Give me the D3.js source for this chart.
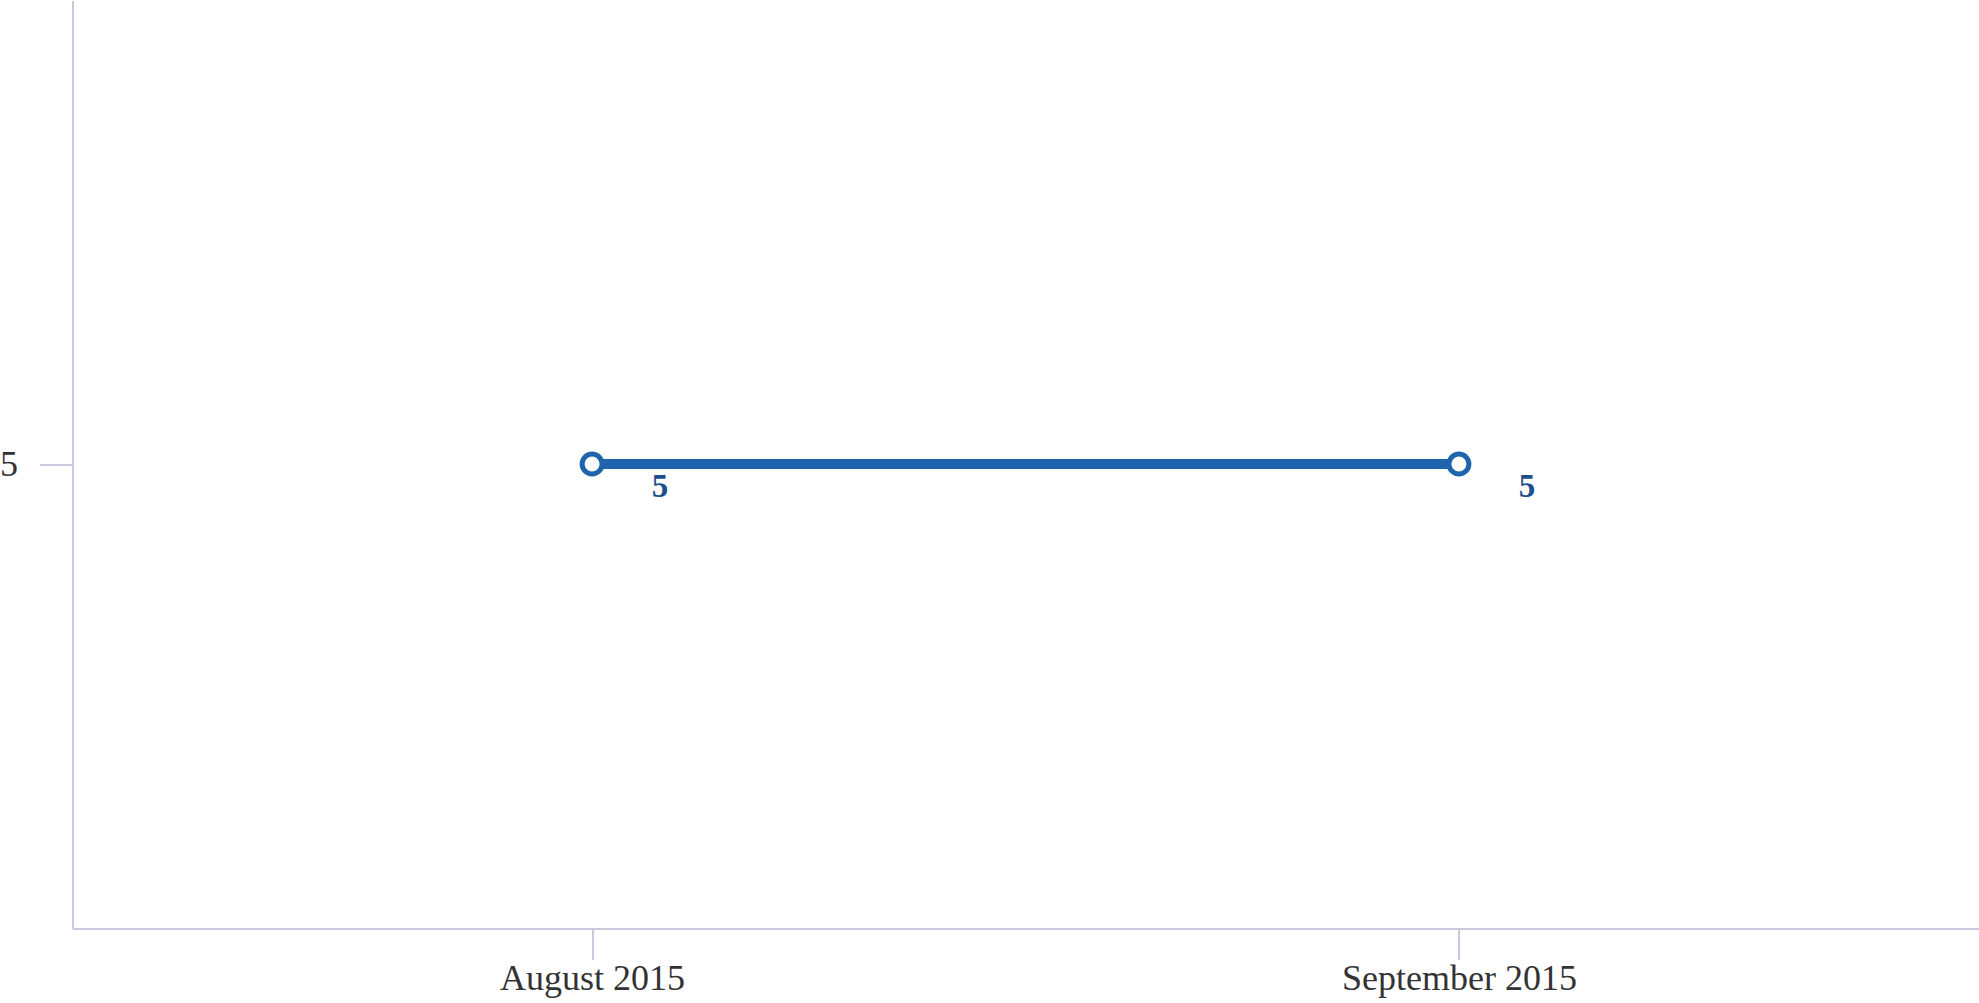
<!DOCTYPE html>
<html lang="en">
<head>
<meta charset="utf-8">
<title>Monthly line</title>
<script src="https://cdn.jsdelivr.net/npm/d3@7/dist/d3.min.js"></script>
<style>
  body { margin: 0; background: #fff; }
  .axis path, .axis line { fill: none; stroke: #c9c9dd; stroke-width: 2px; shape-rendering: crispEdges; }
  .axis text { font-family: "Liberation Serif", "Times New Roman", serif; font-size: 36px; fill: #333; }
  .val { font-family: "Liberation Serif", "Times New Roman", serif; font-size: 33px; font-weight: bold; fill: #1d4f8c; }
</style>
</head>
<body>
<script>
// data
var months = ["August 2015", "September 2015"];
var values = [5, 5];
var yTicks = [5];

var outer_width = 1979, outer_height = 1003;
var margin = {top: 0, right: 0, bottom: 75, left: 72};
var width = outer_width - margin.left - margin.right;
var height = outer_height - margin.top - margin.bottom;

var svg = d3.select("body").append("svg")
    .attr("width", outer_width)
    .attr("height", outer_height)
  .append("g")
    .attr("transform", "translate(" + margin.left + "," + margin.top + ")");

var xScale = d3.scalePoint().domain(months).range([0, width]).padding(0.6);
var yScale = d3.scaleLinear().domain([4, 6]).range([height, 0]);

// axes
svg.append("g")
    .attr("class", "axis")
    .attr("transform", "translate(0," + height + ")")
    .call(d3.axisBottom(xScale).tickSize(32).tickPadding(4).tickSizeOuter(0));

svg.append("g")
    .attr("class", "axis")
    .call(d3.axisLeft(yScale).tickValues(yTicks).tickFormat(d3.format("d"))
        .tickSize(32).tickPadding(22).tickSizeOuter(0));

var data = months.map(function(m, i) { return {month: m, value: values[i]}; });

var line = d3.line()
    .x(function(d) { return xScale(d.month); })
    .y(function(d) { return yScale(d.value); });

svg.append("path")
    .datum(data)
    .attr("d", line)
    .attr("fill", "none")
    .attr("stroke", "#1f64ad")
    .attr("stroke-width", 10);

svg.selectAll("circle.pt")
    .data(data)
  .enter().append("circle")
    .attr("class", "pt")
    .attr("cx", function(d) { return xScale(d.month); })
    .attr("cy", function(d) { return yScale(d.value); })
    .attr("r", 10)
    .attr("fill", "#fff")
    .attr("stroke", "#1f64ad")
    .attr("stroke-width", 5);

svg.selectAll("text.val")
    .data(data)
  .enter().append("text")
    .attr("class", "val")
    .attr("x", function(d) { return xScale(d.month) + 68; })
    .attr("y", function(d) { return yScale(d.value) + 33; })
    .attr("text-anchor", "middle")
    .text(function(d) { return d.value; });
</script>
</body>
</html>
